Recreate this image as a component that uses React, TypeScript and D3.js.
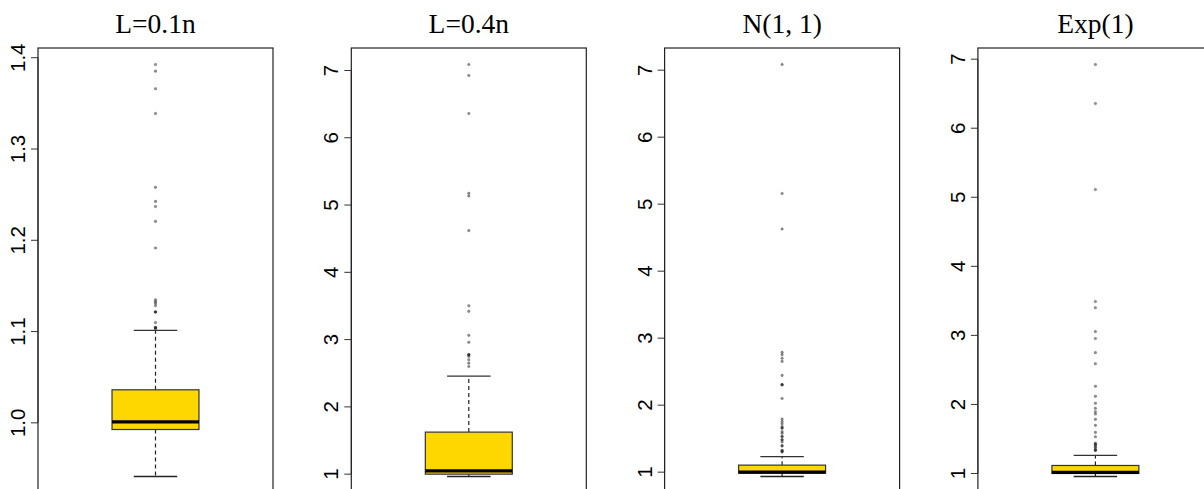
import React from "react";
import * as d3 from "d3";

// ---- data ----
const panelTitles = ["L=0.1n", "L=0.4n", "N(1, 1)", "Exp(1)"];

// [lower whisker, Q1, median, Q3, upper whisker]
const stats1 = [0.9412, 0.9927, 1.0011, 1.0362, 1.1014];
const stats2 = [0.965, 1.0, 1.05, 1.625, 2.458];
const stats3 = [0.935, 0.985, 1.0, 1.105, 1.233];
const stats4 = [0.956, 1.0, 1.015, 1.116, 1.261];

const outliers1 = [1.3926, 1.3853, 1.366, 1.3389, 1.258, 1.2426, 1.237, 1.2207, 1.1915, 1.1347, 1.1328, 1.131, 1.1284, 1.1215, 1.1215, 1.1215, 1.1098, 1.1043, 1.1043, 1.1043, 1.103];
const outliers2 = [7.089, 6.926, 6.36, 5.174, 5.134, 4.62, 3.504, 3.42, 3.063, 2.96, 2.775, 2.775, 2.775, 2.75, 2.7, 2.65, 2.6];
const outliers3 = [7.085, 5.16, 4.63, 2.788, 2.753, 2.7, 2.653, 2.444, 2.305, 2.305, 2.305, 2.1, 1.792, 1.756, 1.722, 1.682, 1.658, 1.658, 1.607, 1.58, 1.532, 1.532, 1.483, 1.483, 1.45, 1.393, 1.393, 1.323, 1.323, 1.303, 1.303];
const outliers4 = [6.923, 6.357, 5.112, 3.49, 3.4, 3.055, 2.954, 2.75, 2.59, 2.263, 2.118, 2.016, 1.943, 1.894, 1.861, 1.784, 1.697, 1.595, 1.531, 1.435, 1.435, 1.41, 1.41, 1.377, 1.377, 1.338, 1.338, 1.338];

const ticks1 = [1.0, 1.1, 1.2, 1.3, 1.4];
const ticks2 = [1, 2, 3, 4, 5, 6, 7];
const ticks3 = [1, 2, 3, 4, 5, 6, 7];
const ticks4 = [1, 2, 3, 4, 5, 6, 7];

const tickFormats = [".1f", "d", "d", "d"];

const panels = [
  { title: panelTitles[0], stats: stats1, outliers: outliers1, ticks: ticks1, fmt: tickFormats[0] },
  { title: panelTitles[1], stats: stats2, outliers: outliers2, ticks: ticks2, fmt: tickFormats[1] },
  { title: panelTitles[2], stats: stats3, outliers: outliers3, ticks: ticks3, fmt: tickFormats[2] },
  { title: panelTitles[3], stats: stats4, outliers: outliers4, ticks: ticks4, fmt: tickFormats[3] },
];

// ---- layout ----
const W = 1204;
const H = 489;
const PANEL_W = 235;
const TOP = 48;
const BOTTOM = 493;
const panelX = d3.scaleLinear().domain([0, 1]).range([38, 38 + 313.3]);

function Panel({ p, i }: { p: any; i: number }) {
  const left = panelX(i);
  const x = d3.scaleLinear().domain([0, 1]).range([left, left + PANEL_W]);
  const all = [...p.stats, ...p.outliers];
  const lo = d3.min(all) as number;
  const hi = d3.max(all) as number;
  const pad = (hi - lo) * 0.04;
  const y = d3.scaleLinear().domain([lo - pad, hi + pad]).range([BOTTOM, TOP]);
  const [wl, q1, med, q3, wh] = p.stats;
  const cx = x(0.5);
  const bx0 = x(0.5 - 0.185);
  const bx1 = x(0.5 + 0.185);
  const cx0 = x(0.5 - 0.0925);
  const cx1 = x(0.5 + 0.0925);
  const fmt = d3.format(p.fmt);
  const yt0 = y(p.ticks[0]);
  const yt1 = y(p.ticks[p.ticks.length - 1]);
  return (
    <g>
      <text
        x={x(0.5)}
        y={33}
        textAnchor="middle"
        fontFamily="'Liberation Serif', 'Times New Roman', serif"
        fontSize={27.5}
        fill="#000"
      >
        {p.title}
      </text>
      {/* axis */}
      <line x1={left} x2={left} y1={yt0} y2={yt1} stroke="#333" strokeWidth={1} />
      {p.ticks.map((t: number) => (
        <g key={t}>
          <line x1={left - 7} x2={left} y1={y(t)} y2={y(t)} stroke="#333" strokeWidth={1} />
          <text
            transform={`translate(${left - 13},${y(t)}) rotate(-90)`}
            textAnchor="middle"
            fontFamily="'Liberation Sans', Arial, sans-serif"
            fontSize={20.5}
            fill="#000"
          >
            {fmt(t)}
          </text>
        </g>
      ))}
      {/* frame */}
      <rect x={left} y={TOP} width={PANEL_W} height={BOTTOM - TOP} fill="none" stroke="#222" strokeWidth={1.2} />
      {/* whiskers */}
      <line x1={cx} x2={cx} y1={y(q3)} y2={y(wh)} stroke="#222" strokeWidth={1.2} strokeDasharray="4,3" />
      <line x1={cx} x2={cx} y1={y(q1)} y2={y(wl)} stroke="#222" strokeWidth={1.2} strokeDasharray="4,3" />
      <line x1={cx0} x2={cx1} y1={y(wh)} y2={y(wh)} stroke="#333" strokeWidth={1.3} />
      <line x1={cx0} x2={cx1} y1={y(wl)} y2={y(wl)} stroke="#222" strokeWidth={1.3} />
      {/* box */}
      <rect x={bx0} y={y(q3)} width={bx1 - bx0} height={y(q1) - y(q3)} fill="#FFD700" stroke="#333" strokeWidth={1.2} />
      <line x1={bx0} x2={bx1} y1={y(med)} y2={y(med)} stroke="#000" strokeWidth={3.2} />
      {/* outliers */}
      {p.outliers.map((v: number, k: number) => (
        <circle key={k} cx={cx} cy={y(v)} r={1.3} fill="#222" fillOpacity={0.5} stroke="#222" strokeOpacity={0.35} strokeWidth={0.6} />
      ))}
    </g>
  );
}

export default function App() {
  return (
    <svg width={W} height={H} style={{ position: "absolute", left: 0, top: 0, background: "#fff" }}>
      <rect x={0} y={0} width={W} height={H} fill="#fff" />
      {panels.map((p, i) => (
        <Panel key={i} p={p} i={i} />
      ))}
    </svg>
  );
}
